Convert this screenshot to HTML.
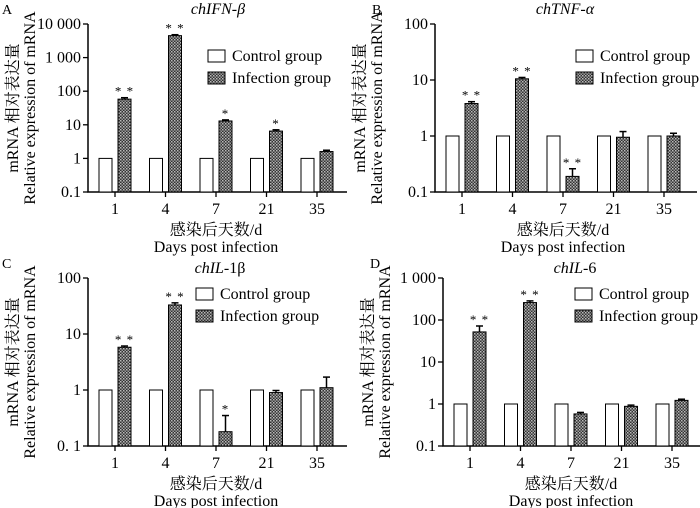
<!DOCTYPE html>
<html><head><meta charset="utf-8"><style>
body{margin:0;background:#fff}
svg{display:block;font-family:"Liberation Serif","Noto Serif CJK SC",serif}
</style></head><body>
<svg id="c" width="700" height="508" xmlns="http://www.w3.org/2000/svg">
<defs><pattern id="hatch" width="3" height="3" patternUnits="userSpaceOnUse"><rect width="3" height="3" fill="#333"/><rect width="1.5" height="1.5" fill="#bbb"/><rect x="1.5" y="1.5" width="1.5" height="1.5" fill="#999"/></pattern></defs>
</svg>
<script>
const categories=["1","4","7","21","35"];
const controlA=[1,1,1,1,1];
const infectA=[58,4500,13,6.5,1.6];
const errA=[6,300,1,0.6,0.15];
const starsA=["**","**","*","*",""];
const infectB=[3.8,10.5,0.19,0.95,1.0];
const errB=[0.3,0.6,0.07,0.25,0.12];
const starsB=["**","**","**","",""];
const infectC=[5.8,33,0.18,0.9,1.1];
const errC=[0.3,3,0.17,0.08,0.6];
const starsC=["**","**","*","",""];
const infectD=[52,260,0.58,0.88,1.22];
const errD=[20,25,0.05,0.06,0.08];
const starsD=["**","**","","",""];
const ticksA=["0.1","1","10","100","1 000","10 000"];
const ticksB=["0.1","1","10","100"];
const ticksC=["0. 1","1","10","100"];
const ticksD=["0.1","1","10","100","1 000"];
const svg=document.getElementById('c');
const NS="http://www.w3.org/2000/svg";
function mk(t,a,txt){const e=document.createElementNS(NS,t);for(const k in a)e.setAttribute(k,a[k]);if(txt!==undefined)e.textContent=txt;svg.appendChild(e);return e;}
const panels=[
 {id:'a',letter:'A',lx:2,ly:14,ax:88,top:24,bot:192,xEnd:347,ticks:ticksA,inf:infectA,err:errA,st:starsA,title:'chIFN-',tsuf:'β',tital:true,tx:218,ty:14,legX:208,legY:56},
 {id:'b',letter:'B',lx:372,ly:14,ax:435,top:24,bot:192,xEnd:697,ticks:ticksB,inf:infectB,err:errB,st:starsB,title:'chTNF-',tsuf:'α',tital:true,tx:565,ty:14,legX:576,legY:56},
 {id:'c',letter:'C',lx:2,ly:268,ax:88,top:278,bot:446,xEnd:347,ticks:ticksC,inf:infectC,err:errC,st:starsC,title:'chIL-',tsuf:'1β',tital:false,tx:220,ty:273,legX:196,legY:294},
 {id:'d',letter:'D',lx:370,ly:268,ax:443,top:278,bot:446,xEnd:700,ticks:ticksD,inf:infectD,err:errD,st:starsD,title:'chIL-',tsuf:'6',tital:false,tx:575,ty:273,legX:575,legY:294}
];
panels.forEach(p=>{
 const n=p.ticks.length-1;
 const y=v=>p.bot-(Math.log10(v)+1)/n*(p.bot-p.top);
 const cx=i=>p.ax+27+i*50.5;
 const L=mk('text',{x:p.lx,y:p.ly,'font-size':14},p.letter);
 
 const T=mk('text',{x:p.tx,y:p.ty,'font-size':16,'text-anchor':'middle','font-style':'italic'});
 
 const s1=document.createElementNS(NS,'tspan');s1.textContent=p.title;T.appendChild(s1);
 const s2=document.createElementNS(NS,'tspan');s2.textContent=p.tsuf;if(!p.tital)s2.setAttribute('font-style','normal');T.appendChild(s2);
 const ax=mk('path',{d:`M${p.ax},${p.top}V${p.bot}H${p.xEnd}`,stroke:'#000','stroke-width':1.5,fill:'none'});
 
 p.ticks.forEach((t,k)=>{const yy=p.bot-k/n*(p.bot-p.top);
  mk('line',{x1:p.ax-5,x2:p.ax,y1:yy,y2:yy,stroke:'#000','stroke-width':1.3});
  const tl=mk('text',{x:p.ax-7,y:yy+5,'font-size':16,'text-anchor':'end'},t);
  });
 categories.forEach((c,i)=>{
  mk('line',{x1:cx(i),x2:cx(i),y1:p.bot,y2:p.bot+5,stroke:'#000','stroke-width':1.3});
  const xl=mk('text',{x:cx(i),y:p.bot+22,'font-size':16,'text-anchor':'middle'},c);
  
  const cb=mk('rect',{x:cx(i)-16,y:y(controlA[i]),width:13,height:p.bot-y(controlA[i]),fill:'#fff',stroke:'#000','stroke-width':1});
  
  const v=p.inf[i],yt=y(v);
  const ey=y(v+p.err[i]);
  mk('line',{x1:cx(i)+9.5,x2:cx(i)+9.5,y1:ey,y2:yt,stroke:'#000','stroke-width':1.5});
  mk('line',{x1:cx(i)+6,x2:cx(i)+13,y1:ey,y2:ey,stroke:'#000','stroke-width':1.5});
  const ib=mk('rect',{x:cx(i)+3,y:Math.min(yt,p.bot),width:13,height:Math.abs(p.bot-yt),fill:'url(#hatch)',stroke:'#000','stroke-width':1});
  
  if(p.st[i]){const st=mk('text',{x:cx(i)+9.5,y:ey-2,'font-size':13,'text-anchor':'middle','letter-spacing':'1'},p.st[i].split('').join(' '));
   }
 });
 const yt1=mk('text',{transform:`translate(${p.ax-70},${(p.top+p.bot)/2}) rotate(-90)`,'font-size':16,'text-anchor':'middle'},'mRNA 相对表达量');
 
 const yt2=mk('text',{transform:`translate(${p.ax-53},${(p.top+p.bot)/2}) rotate(-90)`,'font-size':16,'text-anchor':'middle'},'Relative expression of mRNA');
 
 const mid=(cx(0)+cx(4))/2;
 const xt1=mk('text',{x:mid,y:p.bot+43,'font-size':16,'text-anchor':'middle'},'感染后天数/d');
 
 const xt2=mk('text',{x:mid,y:p.bot+60,'font-size':16,'text-anchor':'middle'},'Days post infection');
 
 const l1=mk('rect',{x:p.legX,y:p.legY-6,width:17,height:12,fill:'#fff',stroke:'#000'});
 
 const lt1=mk('text',{x:p.legX+24,y:p.legY+5,'font-size':16},'Control group');
 
 const l2=mk('rect',{x:p.legX,y:p.legY+16,width:17,height:12,fill:'url(#hatch)',stroke:'#000'});
 
 const lt2=mk('text',{x:p.legX+24,y:p.legY+27,'font-size':16},'Infection group');
 
});
</script>
</body></html>
